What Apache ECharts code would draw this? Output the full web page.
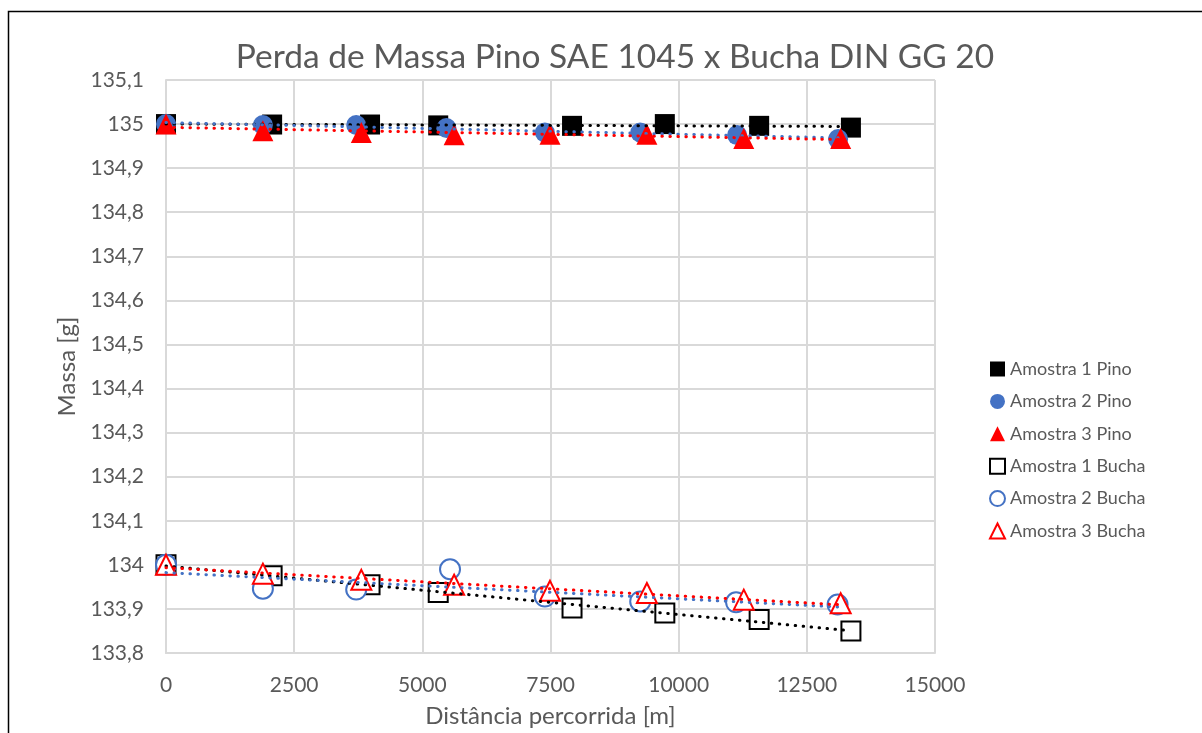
<!DOCTYPE html>
<html>
<head>
<meta charset="utf-8">
<title>Perda de Massa Pino SAE 1045 x Bucha DIN GG 20</title>
<script src="https://cdn.jsdelivr.net/npm/echarts@6/dist/echarts.min.js"></script>
<style>
  html, body { margin: 0; padding: 0; background: #ffffff; }
  #chart { width: 1202px; height: 733px; }
</style>
</head>
<body>
<div id="chart"></div>
<script>
// Distância percorrida [m] e massa [g] de cada amostra
const pino1X = [0, 2070, 3980, 5310, 7920, 9730, 11570, 13360];
const pino1Y = [135.000, 134.999, 134.999, 134.997, 134.996, 135.000, 134.996, 134.992];

const pino2X = [0, 1890, 3710, 5470, 7390, 9250, 11140, 13110];
const pino2Y = [135.000, 134.998, 134.998, 134.991, 134.981, 134.981, 134.975, 134.966];

const pino3X = [0, 1890, 3810, 5620, 7490, 9380, 11270, 13160];
const pino3Y = [135.000, 134.985, 134.981, 134.976, 134.977, 134.977, 134.967, 134.967];

const bucha1X = [0, 2070, 3980, 5310, 7920, 9730, 11570, 13360];
const bucha1Y = [134.000, 133.975, 133.955, 133.937, 133.902, 133.891, 133.876, 133.850];

const bucha2X = [0, 1890, 3710, 5540, 7390, 9250, 11120, 13100];
const bucha2Y = [134.000, 133.946, 133.944, 133.990, 133.928, 133.917, 133.915, 133.910];

const bucha3X = [0, 1890, 3810, 5620, 7490, 9380, 11270, 13160];
const bucha3Y = [134.000, 133.980, 133.966, 133.955, 133.941, 133.936, 133.921, 133.913];

const seriesNames = [
  'Amostra 1 Pino', 'Amostra 2 Pino', 'Amostra 3 Pino',
  'Amostra 1 Bucha', 'Amostra 2 Bucha', 'Amostra 3 Bucha'
];

const BLACK = '#000000';
const BLUE = '#4472C4';
const RED = '#FF0000';
const TEXT = '#595959';
const GRID = '#d9d9d9';
const FONT = 'Lato, "Open Sans", sans-serif';

function pairs(xs, ys) {
  return xs.map((x, i) => [x, ys[i]]);
}

// Linear least-squares trend line over the x-range of a series
function trend(xs, ys) {
  const n = xs.length;
  const mx = xs.reduce((a, b) => a + b, 0) / n;
  const my = ys.reduce((a, b) => a + b, 0) / n;
  let sxy = 0, sxx = 0;
  for (let i = 0; i < n; i++) {
    sxy += (xs[i] - mx) * (ys[i] - my);
    sxx += (xs[i] - mx) * (xs[i] - mx);
  }
  const b = sxy / sxx;
  const a = my - b * mx;
  const x0 = Math.min(...xs), x1 = Math.max(...xs);
  return [[x0, a + b * x0], [x1, a + b * x1]];
}

function markerSeries(name, xs, ys, symbol, size, color, filled) {
  return {
    name: name,
    type: 'scatter',
    data: pairs(xs, ys),
    symbol: symbol,
    symbolSize: size,
    z: 2,
    itemStyle: filled
      ? { color: color, borderColor: color, borderWidth: 0, opacity: 1 }
      : { color: '#ffffff', borderColor: color, borderWidth: 2, opacity: 1 },
    emphasis: { disabled: true }
  };
}

function trendSeries(xs, ys, color) {
  return {
    type: 'line',
    data: trend(xs, ys),
    symbol: 'none',
    silent: true,
    z: 3,
    lineStyle: { color: color, width: 3, type: [0.5, 7.5], cap: 'round' }
  };
}

const decimalComma = v => String(+v.toFixed(1)).replace('.', ',');
const plainNumber = v => String(Math.round(v));

const chart = echarts.init(document.getElementById('chart'), null, { renderer: 'canvas' });

chart.setOption({
  animation: false,
  backgroundColor: '#ffffff',
  textStyle: { fontFamily: FONT },
  title: {
    text: 'Perda de Massa Pino SAE 1045 x Bucha DIN GG 20',
    left: 610,
    textAlign: 'center',
    top: 35,
    textStyle: { color: TEXT, fontSize: 33.5, fontWeight: 'normal', fontFamily: FONT }
  },
  graphic: [{
    type: 'rect',
    shape: { x: 8.5, y: 11.5, width: 1200, height: 730 },
    style: { fill: 'none', stroke: '#000000', lineWidth: 1.5 },
    silent: true,
    z: -1
  }],
  legend: {
    orient: 'vertical',
    left: 984,
    top: 355,
    itemWidth: 15,
    itemHeight: 15,
    itemGap: 14.4,
    data: seriesNames,
    textStyle: { color: TEXT, fontSize: 18, fontFamily: FONT },
    selectedMode: false
  },
  grid: { left: 166, top: 80, width: 769, height: 577, containLabel: false },
  xAxis: {
    type: 'value',
    min: 0,
    max: 15000,
    interval: 2500,
    name: 'Distância percorrida [m]',
    nameLocation: 'middle',
    nameGap: 51,
    nameTextStyle: { color: TEXT, fontSize: 24, fontFamily: FONT },
    axisLine: { show: true, lineStyle: { color: GRID, width: 2 } },
    axisTick: { show: false },
    axisLabel: { color: TEXT, fontSize: 21, margin: 22, fontFamily: FONT, formatter: plainNumber },
    splitLine: { show: true, lineStyle: { color: GRID, width: 2 } }
  },
  yAxis: {
    type: 'value',
    min: 133.8,
    max: 135.1,
    interval: 0.1,
    name: 'Massa [g]',
    nameLocation: 'middle',
    nameGap: 87,
    nameRotate: 90,
    nameTextStyle: { color: TEXT, fontSize: 24, fontFamily: FONT },
    axisLine: { show: true, lineStyle: { color: GRID, width: 2 } },
    axisTick: { show: false },
    axisLabel: { color: TEXT, fontSize: 21, margin: 22, fontFamily: FONT, formatter: decimalComma },
    splitLine: { show: true, lineStyle: { color: GRID, width: 2 } }
  },
  series: [
    markerSeries(seriesNames[0], pino1X, pino1Y, 'rect', 20, BLACK, true),
    markerSeries(seriesNames[1], pino2X, pino2Y, 'circle', 20, BLUE, true),
    markerSeries(seriesNames[2], pino3X, pino3Y, 'triangle', 21, RED, true),
    markerSeries(seriesNames[3], bucha1X, bucha1Y, 'rect', 19, BLACK, false),
    markerSeries(seriesNames[4], bucha2X, bucha2Y, 'circle', 20, BLUE, false),
    markerSeries(seriesNames[5], bucha3X, bucha3Y, 'triangle', 20, RED, false),
    trendSeries(pino1X, pino1Y, BLACK),
    trendSeries(pino2X, pino2Y, BLUE),
    trendSeries(pino3X, pino3Y, RED),
    trendSeries(bucha1X, bucha1Y, BLACK),
    trendSeries(bucha2X, bucha2Y, BLUE),
    trendSeries(bucha3X, bucha3Y, RED)
  ]
});
</script>
</body>
</html>
